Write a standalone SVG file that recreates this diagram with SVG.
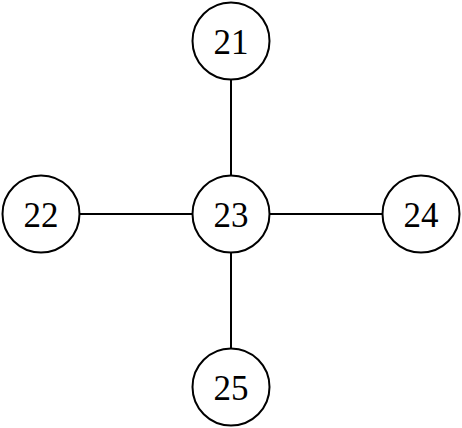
<svg xmlns="http://www.w3.org/2000/svg" width="462" height="428" viewBox="0 0 462 428">
<style>
.n circle{fill:#fff;stroke:#000;stroke-width:2}
.n text{font-family:"Liberation Serif","Noto Sans CJK SC",serif;font-size:35px;fill:#000;text-anchor:middle;dominant-baseline:central}
.e line{stroke:#000;stroke-width:2}
</style>
<rect width="462" height="428" fill="#fff"/>
<g id="edges" class="e">
<line x1="231" y1="79.5" x2="231" y2="175.5"/>
<line x1="79.5" y1="214" x2="192.5" y2="214"/>
<line x1="269.5" y1="214" x2="382.5" y2="214"/>
<line x1="231" y1="252.5" x2="231" y2="348.5"/>
</g>
<g id="n21" class="n"><circle cx="231" cy="41" r="38.5"/><text x="231" y="42">21</text></g>
<g id="n22" class="n"><circle cx="41" cy="214" r="38.5"/><text x="41" y="215">22</text></g>
<g id="n23" class="n"><circle cx="231" cy="214" r="38.5"/><text x="231" y="215">23</text></g>
<g id="n24" class="n"><circle cx="421" cy="214" r="38.5"/><text x="421" y="215">24</text></g>
<g id="n25" class="n"><circle cx="231" cy="387" r="38.5"/><text x="231" y="388">25</text></g>
</svg>
